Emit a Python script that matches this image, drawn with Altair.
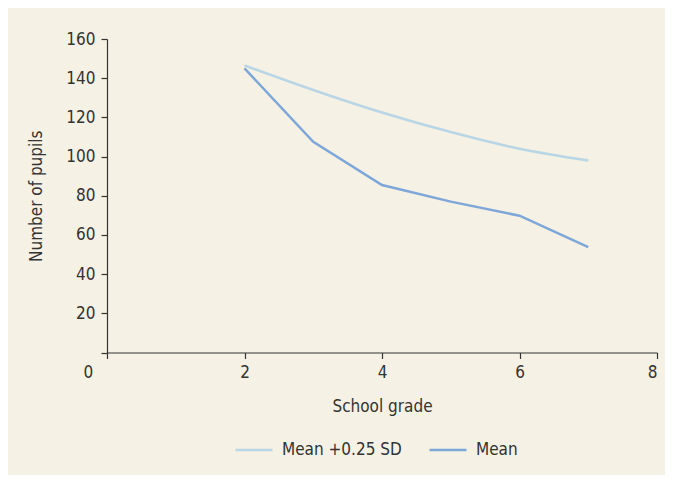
import altair as alt
import pandas as pd

grades = [2, 3, 4, 5, 6, 7]
mean_sd = [146.5, 134, 122.5, 112.5, 104, 98]
mean = [145, 107.5, 85.5, 77, 69.8, 53.8]

series_names = ["Mean +0.25 SD", "Mean"]
colors = ["#b9d6e6", "#7ea7d9"]

rows = []
for g, v in zip(grades, mean_sd):
    rows.append({"grade": g, "pupils": v, "series": series_names[0]})
for g, v in zip(grades, mean):
    rows.append({"grade": g, "pupils": v, "series": series_names[1]})
df = pd.DataFrame(rows)

FONT = "DejaVu Sans Condensed, Roboto, sans-serif"

x = alt.X("grade:Q", title="School grade",
          scale=alt.Scale(domain=[0, 8], nice=False),
          axis=alt.Axis(values=[0, 2, 4, 6, 8], grid=False, tickSize=6,
                        labelPadding=6, titlePadding=18,
                        labelOffset={"condition": {"test": "datum.value === 0", "value": -24}, "value": 0}))
y = alt.Y("pupils:Q", title="Number of pupils",
          scale=alt.Scale(domain=[0, 160], nice=False),
          axis=alt.Axis(values=[0, 20, 40, 60, 80, 100, 120, 140, 160], grid=False,
                        tickSize=6, labelPadding=6, titlePadding=20,
                        labelExpr="datum.value === 0 ? '' : datum.label"))

light = alt.Chart(df).transform_filter(alt.datum.series == series_names[0]).mark_line(
    strokeWidth=2.5, interpolate="monotone").encode(
    x=x, y=y,
    color=alt.Color("series:N", scale=alt.Scale(domain=series_names, range=colors),
                    legend=alt.Legend(title=None, orient="none", legendX=127, legendY=391,
                                      direction="horizontal", symbolType="stroke",
                                      symbolSize=1369, symbolStrokeWidth=2.5,
                                      labelFontSize=17, labelFont=FONT, labelColor="#333333",
                                      columnPadding=22, labelOffset=8)))
dark = alt.Chart(df).transform_filter(alt.datum.series == series_names[1]).mark_line(
    strokeWidth=2.5).encode(x=x, y=y, color=alt.Color("series:N"))

chart = alt.layer(light, dark).properties(
    width=550, height=313.5,
    autosize=alt.AutoSizeParams(type="none"),
    padding={"left": 99, "top": 31, "right": 8, "bottom": 122},
    background="#f5f1e4",
).configure_view(stroke=None).configure_axis(
    domainColor="#333333", tickColor="#333333", labelColor="#333333", titleColor="#333333",
    labelFont=FONT, titleFont=FONT, labelFontSize=17, titleFontSize=17,
    titleFontWeight="normal", domainWidth=1.2, tickWidth=1.2,
)

chart.save("out.html", embed_options={"renderer": "svg", "actions": False})
